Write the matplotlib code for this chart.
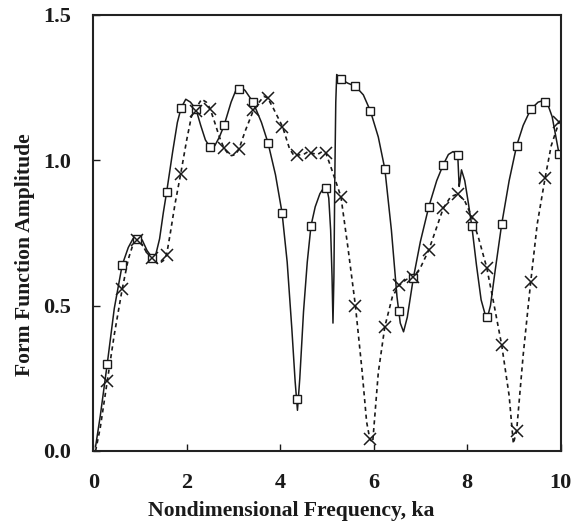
import matplotlib
matplotlib.use("Agg")
import matplotlib.pyplot as plt

# ---- data ----
marker_x = [0.30, 0.62, 0.94, 1.26, 1.57, 1.88, 2.20, 2.50, 2.80, 3.12, 3.42, 3.74,
            4.04, 4.36, 4.66, 4.98, 5.31, 5.61, 5.93, 6.24, 6.55, 6.85, 7.18, 7.49,
            7.80, 8.10, 8.42, 8.74, 9.06, 9.36, 9.67, 9.97]
square_y = [0.30, 0.64, 0.73, 0.665, 0.89, 1.18, 1.175, 1.045, 1.12, 1.245, 1.20, 1.06,
            0.82, 0.18, 0.775, 0.905, 1.278, 1.255, 1.17, 0.97, 0.48, 0.595, 0.84, 0.985,
            1.018, 0.775, 0.46, 0.78, 1.05, 1.175, 1.20, 1.02]
cross_y = [0.24, 0.557, 0.725, 0.665, 0.675, 0.952, 1.17, 1.178, 1.041, 1.039, 1.173, 1.215,
           1.116, 1.018, 1.024, 1.024, 0.875, 0.50, 0.04, 0.428, 0.571, 0.597, 0.691, 0.835,
           0.884, 0.806, 0.631, 0.365, 0.07, 0.58, 0.94, 1.133]

solid_x = [0.05, 0.15, 0.30, 0.45, 0.62, 0.75, 0.85, 0.95, 1.05, 1.15, 1.26, 1.33, 1.42,
           1.50, 1.57, 1.70, 1.80, 1.88, 1.98, 2.08, 2.20, 2.30, 2.40, 2.50, 2.60, 2.70,
           2.80, 2.95, 3.05, 3.14, 3.25, 3.42, 3.60, 3.74, 3.90, 4.04, 4.15, 4.25, 4.32,
           4.37, 4.42, 4.50, 4.58, 4.66, 4.75, 4.85, 4.95, 4.99, 5.04, 5.08, 5.11, 5.13,
           5.15, 5.17, 5.19, 5.21, 5.31, 5.45, 5.61, 5.78, 5.93, 6.10, 6.24, 6.38, 6.50,
           6.57, 6.64, 6.72, 6.85, 7.00, 7.18, 7.35, 7.49, 7.60, 7.70, 7.80, 7.83, 7.85,
           7.88, 7.95, 8.02, 8.10, 8.20, 8.30, 8.42, 8.50, 8.60, 8.74, 8.90, 9.06, 9.20,
           9.36, 9.52, 9.62, 9.72, 9.82, 9.97]
solid_y = [0.015, 0.12, 0.30, 0.49, 0.64, 0.70, 0.73, 0.74, 0.725, 0.69, 0.665, 0.67, 0.73,
           0.82, 0.89, 1.03, 1.13, 1.18, 1.21, 1.20, 1.175, 1.12, 1.07, 1.045, 1.05, 1.08,
           1.12, 1.20, 1.24, 1.255, 1.24, 1.20, 1.13, 1.06, 0.95, 0.82, 0.65, 0.42, 0.24,
           0.14, 0.25, 0.48, 0.65, 0.775, 0.84, 0.885, 0.91, 0.91, 0.87, 0.76, 0.60, 0.44,
           0.60, 0.95, 1.20, 1.295, 1.278, 1.265, 1.255, 1.225, 1.17, 1.08, 0.97, 0.76, 0.53,
           0.44, 0.41, 0.46, 0.595, 0.72, 0.84, 0.93, 0.985, 1.02, 1.03, 1.018, 0.91, 0.93,
           0.967, 0.93, 0.86, 0.775, 0.64, 0.52, 0.45, 0.50, 0.62, 0.78, 0.93, 1.05, 1.12,
           1.175, 1.20, 1.205, 1.195, 1.15, 1.02]

dashed_x = [0.05, 0.15, 0.30, 0.45, 0.62, 0.75, 0.85, 0.95, 1.05, 1.15, 1.26, 1.35, 1.42,
            1.50, 1.57, 1.65, 1.75, 1.87, 2.00, 2.10, 2.20, 2.32, 2.42, 2.50, 2.60, 2.70,
            2.80, 2.90, 2.96, 3.05, 3.12, 3.25, 3.43, 3.55, 3.65, 3.73, 3.85, 4.05, 4.20,
            4.30, 4.37, 4.50, 4.60, 4.69, 4.80, 4.90, 4.98, 5.10, 5.30, 5.45, 5.61, 5.75,
            5.85, 5.92, 5.98, 6.10, 6.24, 6.40, 6.55, 6.70, 6.85, 7.00, 7.18, 7.35, 7.49,
            7.65, 7.80, 7.95, 8.10, 8.25, 8.42, 8.58, 8.74, 8.90, 8.99, 9.06, 9.20, 9.36,
            9.50, 9.67, 9.80, 9.97]
dashed_y = [0.0, 0.08, 0.24, 0.40, 0.557, 0.66, 0.71, 0.725, 0.71, 0.68, 0.665, 0.648, 0.646,
            0.655, 0.675, 0.75, 0.85, 0.952, 1.07, 1.15, 1.18, 1.21, 1.20, 1.178, 1.13, 1.08,
            1.041, 1.02, 1.016, 1.02, 1.039, 1.10, 1.173, 1.20, 1.22, 1.215, 1.18, 1.116, 1.04,
            1.015, 1.018, 1.02, 1.03, 1.024, 1.02, 1.03, 1.024, 0.97, 0.875, 0.70, 0.50, 0.28,
            0.10, 0.04, 0.03, 0.27, 0.428, 0.53, 0.571, 0.59, 0.597, 0.63, 0.691, 0.77, 0.835,
            0.875, 0.884, 0.86, 0.806, 0.73, 0.631, 0.50, 0.365, 0.19, 0.025, 0.07, 0.33, 0.58,
            0.78, 0.94, 1.05, 1.133]

x_ticks = [0, 2, 4, 6, 8, 10]
y_ticks = [0.0, 0.5, 1.0, 1.5]
x_label = "Nondimensional Frequency, ka"
y_label = "Form Function Amplitude"

plt.rcParams['font.family'] = ['Liberation Serif', 'DejaVu Serif']
plt.rcParams['font.weight'] = 'bold'

fig = plt.figure(figsize=(5.72, 5.26), dpi=100)
ax = fig.add_axes([0.163, 0.1426, 0.817, 0.829])

ink = '#1a1a1a'
ax.plot(solid_x, solid_y, color=ink, lw=1.1, solid_joinstyle='round')
ax.plot(dashed_x, dashed_y, color=ink, lw=1.2, linestyle=(0, (2.5, 2.2)))
ax.plot(marker_x, square_y, linestyle='none', marker='s', ms=6, mfc='white',
        mec=ink, mew=1.0)
ax.plot(marker_x, cross_y, linestyle='none', marker='x', ms=8, mec=ink, mew=1.1)

ax.set_xlim(0, 10)
ax.set_ylim(0, 1.5)
ax.set_xticks(x_ticks)
ax.set_yticks(y_ticks)
ax.set_xticklabels([str(t) for t in x_ticks])
ax.set_yticklabels([f"{t:.1f}" for t in y_ticks])
ax.tick_params(direction='in', length=5, width=1, pad=16, labelsize=16, colors=ink)
for s in ax.spines.values():
    s.set_linewidth(1.5)
    s.set_color('#222222')

fig.text(291 / 572, 1 - 511 / 526, x_label, fontsize=15.6, fontweight='bold',
         ha='center', va='center', color=ink)
fig.text(25 / 572, 1 - 255 / 526, y_label, fontsize=15.6, fontweight='bold',
         ha='center', va='center', rotation=90, color=ink)

fig.savefig("out.png", dpi=100)
